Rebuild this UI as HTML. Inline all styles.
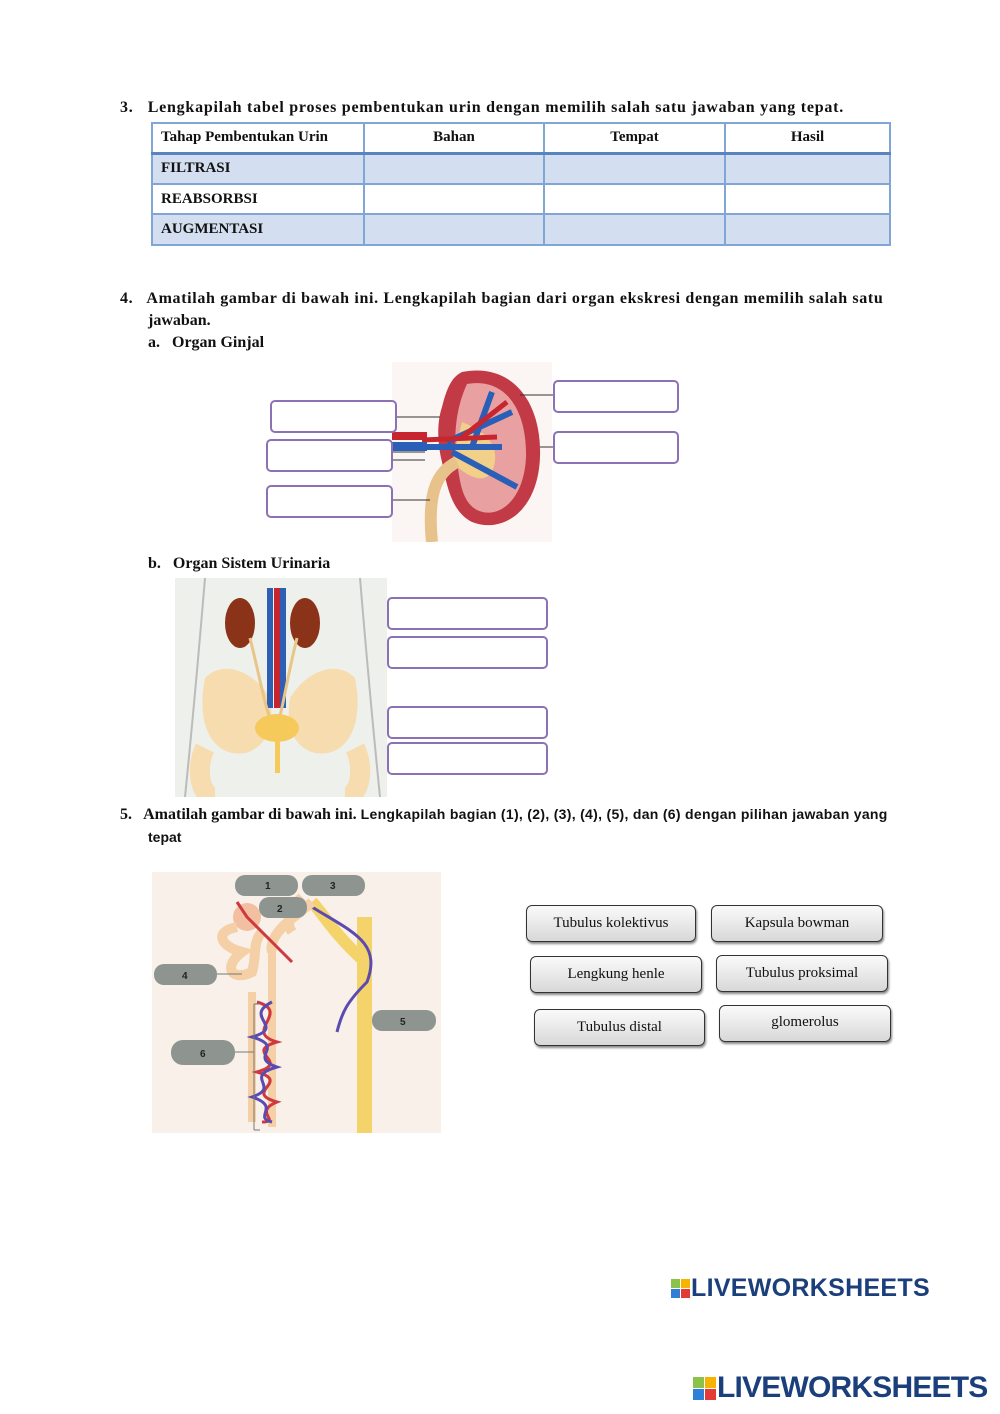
<!DOCTYPE html>
<html><head><meta charset="utf-8"><style>
body{margin:0;background:#fff;}
#p{position:relative;width:1000px;height:1414px;overflow:hidden;font-family:"Liberation Serif",serif;color:#111;}
.t{position:absolute;font-weight:bold;font-size:16px;white-space:nowrap;}
table{position:absolute;left:151px;top:122px;width:740px;border-collapse:collapse;font-family:"Liberation Serif",serif;font-weight:bold;font-size:15px;}
td{border:2px solid #7fa6d4;padding:0 8px;}
.b{position:absolute;border:2px solid #8c72b4;border-radius:5px;background:#fff;box-sizing:border-box;}
.btn{position:absolute;border:1.5px solid #333;border-radius:6px;background:linear-gradient(#fafafa,#d8d8d8);box-shadow:1px 2px 2px #888;box-sizing:border-box;font-size:15px;text-align:center;line-height:34px;height:37px;}
.logo{position:absolute;font-family:"Liberation Sans",sans-serif;font-weight:bold;color:#1b3f7a;white-space:nowrap;}
.sq{display:inline-block;vertical-align:middle;}
</style></head><body><div id="p">
<div class="t" style="left:120px;top:99px;letter-spacing:0.75px">3.&nbsp;&nbsp; Lengkapilah tabel proses pembentukan urin dengan memilih salah satu jawaban yang tepat.</div>
<table>
<tr style="height:30px;border-bottom:3px solid #5a84c0"><td style="width:194px">Tahap Pembentukan Urin</td><td style="width:162px;text-align:center">Bahan</td><td style="width:163px;text-align:center">Tempat</td><td style="text-align:center">Hasil</td></tr>
<tr style="height:31px;background:#d3dff0"><td>FILTRASI</td><td></td><td></td><td></td></tr>
<tr style="height:30px"><td>REABSORBSI</td><td></td><td></td><td></td></tr>
<tr style="height:31px;background:#d3dff0"><td>AUGMENTASI</td><td></td><td></td><td></td></tr>
</table>
<div class="t" style="left:120px;top:290px;letter-spacing:0.65px">4.&nbsp;&nbsp; Amatilah gambar di bawah ini. Lengkapilah bagian dari organ ekskresi dengan memilih salah satu</div>
<div class="t" style="left:148px;top:312px">jawaban.</div>
<div class="t" style="left:148px;top:334px">a.&nbsp;&nbsp; Organ Ginjal</div>
<svg style="position:absolute;left:392px;top:362px" width="160" height="180">
<rect width="160" height="180" fill="#fbf6f4"/>
<path d="M70 10 C120 0 150 40 148 95 C146 150 110 172 80 160 C60 150 55 125 50 100 C45 80 45 60 50 45 C55 25 60 15 70 10Z" fill="#c23a45"/>
<path d="M75 22 C115 15 135 50 134 95 C132 140 105 158 85 148 C70 140 68 120 65 100 C62 80 62 50 75 22Z" fill="#e8a0a0"/>
<path d="M70 60 C95 70 110 85 100 110 C90 125 70 110 60 100Z" fill="#f2d08a"/>
<path d="M30 85 L110 85 M55 80 L120 50 M60 90 L125 125 M80 85 L100 30" stroke="#2a5fb8" stroke-width="6" fill="none"/>
<path d="M30 78 L105 75 M70 75 L115 40" stroke="#c8262e" stroke-width="5" fill="none"/>
<path d="M65 100 C45 110 35 130 40 180" stroke="#e7c28a" stroke-width="12" fill="none"/>
<rect x="0" y="80" width="35" height="9" fill="#2a5fb8"/><rect x="0" y="70" width="35" height="8" fill="#c8262e"/>
</svg>
<div class="b" style="left:270px;top:400px;width:127px;height:33px"></div>
<div class="b" style="left:266px;top:439px;width:127px;height:33px"></div>
<div class="b" style="left:266px;top:485px;width:127px;height:33px"></div>
<div class="b" style="left:553px;top:380px;width:126px;height:33px"></div>
<div class="b" style="left:553px;top:431px;width:126px;height:33px"></div>
<svg style="position:absolute;left:0;top:0" width="1000" height="1414" pointer-events="none">
<path d="M397 417H440M393 452H425M393 460H425M393 500H430M553 395H520M553 447H540" stroke="#333" stroke-width="1"/>
<path d="M300 611H387M305 650H387M290 722H387M280 757H387" stroke="#333" stroke-width="1"/>
</svg>
<div class="t" style="left:148px;top:555px">b.&nbsp;&nbsp; Organ Sistem Urinaria</div>
<svg style="position:absolute;left:175px;top:578px" width="212" height="219">
<rect width="212" height="219" fill="#eef0ec"/>
<path d="M30 0 C25 60 20 120 10 219 M185 0 C190 60 195 120 205 219" stroke="#bbb" fill="none" stroke-width="2"/>
<path d="M30 100 C50 80 80 95 95 120 C100 150 90 170 70 175 C40 180 20 150 30 100Z" fill="#f6dcae"/>
<path d="M180 100 C160 80 130 95 115 120 C110 150 120 170 140 175 C170 180 190 150 180 100Z" fill="#f6dcae"/>
<path d="M30 170 C20 190 25 219 40 219 M180 170 C190 190 185 219 170 219" stroke="#f6dcae" stroke-width="20" fill="none"/>
<ellipse cx="65" cy="45" rx="15" ry="25" fill="#8b3318"/><ellipse cx="130" cy="45" rx="15" ry="25" fill="#8b3318"/>
<path d="M95 10 L95 130 M108 10 L108 130" stroke="#2d5fb5" stroke-width="6"/><path d="M102 10 L102 130" stroke="#c8262e" stroke-width="6"/>
<path d="M75 60 C85 100 90 130 97 145 M122 60 C112 100 108 130 103 145" stroke="#e8c688" stroke-width="3" fill="none"/>
<ellipse cx="102" cy="150" rx="22" ry="14" fill="#f5c95a"/>
<rect x="100" y="160" width="5" height="35" fill="#f5c95a"/>
</svg>
<div class="b" style="left:387px;top:597px;width:161px;height:33px"></div>
<div class="b" style="left:387px;top:636px;width:161px;height:33px"></div>
<div class="b" style="left:387px;top:706px;width:161px;height:33px"></div>
<div class="b" style="left:387px;top:742px;width:161px;height:33px"></div>
<div class="t" style="left:120px;top:806px">5.&nbsp;&nbsp; Amatilah gambar di bawah ini. <span style="font-family:'Liberation Sans',sans-serif;font-size:14px;letter-spacing:0.3px">Lengkapilah bagian (1), (2), (3), (4), (5), dan (6) dengan pilihan jawaban yang</span></div>
<div class="t" style="left:148px;top:829px;font-family:'Liberation Sans',sans-serif;font-size:14px">tepat</div>
<svg style="position:absolute;left:152px;top:872px" width="289" height="261" font-family="Liberation Sans" font-size="10" font-weight="bold">
<rect width="289" height="261" fill="#f8f0e9"/>
<rect x="205" y="45" width="15" height="216" fill="#f4d46a"/>
<path d="M213 90 C180 60 170 40 160 30" stroke="#f4d46a" stroke-width="12" fill="none"/>
<path d="M160 35 C200 60 230 70 215 110 C195 130 190 140 185 160" stroke="#5b4ab0" stroke-width="3" fill="none"/>
<path d="M120 80 C115 60 150 40 160 30 M140 60 C130 45 145 30 150 25" stroke="#f5cfa5" stroke-width="10" fill="none"/>
<path d="M120 75 L120 255 M100 120 L100 250" stroke="#f5cfa5" stroke-width="8" fill="none"/>
<path d="M105 130 C140 140 90 160 125 170 C90 180 140 190 105 200 C140 210 90 220 125 230 C100 240 130 250 110 250" stroke="#d0383f" stroke-width="3" fill="none"/>
<path d="M120 130 C90 145 135 155 100 165 C135 175 95 185 125 195 C90 205 130 215 100 225 C130 235 100 245 120 250" stroke="#5b4ab0" stroke-width="3" fill="none"/>
<circle cx="95" cy="45" r="14" fill="#f2c0a0"/>
<path d="M85 55 C60 60 70 75 90 80 C70 95 80 110 100 100 C105 85 100 70 110 60" stroke="#f5cfa5" stroke-width="10" fill="none"/>
<path d="M85 30 L95 45 L140 90" stroke="#d0383f" stroke-width="3" fill="none"/>
<rect x="83" y="3" width="63" height="21" rx="10" fill="#8e9591"/><text x="113" y="17" fill="#222">1</text>
<rect x="150" y="3" width="63" height="21" rx="10" fill="#8e9591"/><text x="178" y="17" fill="#222">3</text>
<rect x="107" y="25" width="48" height="21" rx="10" fill="#8e9591"/><text x="125" y="40" fill="#222">2</text>
<rect x="2" y="92" width="63" height="21" rx="10" fill="#8e9591"/><text x="30" y="107" fill="#222">4</text>
<rect x="220" y="138" width="64" height="21" rx="10" fill="#8e9591"/><text x="248" y="153" fill="#222">5</text>
<rect x="19" y="168" width="64" height="25" rx="12" fill="#8e9591"/><text x="48" y="185" fill="#222">6</text>
<path d="M65 102H90M83 180H102M102 132V258M102 132H108M102 258H108" stroke="#777" fill="none"/>
</svg>
<div class="btn" style="left:526px;top:905px;width:170px">Tubulus kolektivus</div>
<div class="btn" style="left:711px;top:905px;width:172px">Kapsula bowman</div>
<div class="btn" style="left:530px;top:956px;width:172px">Lengkung henle</div>
<div class="btn" style="left:716px;top:955px;width:172px">Tubulus proksimal</div>
<div class="btn" style="left:534px;top:1009px;width:171px">Tubulus distal</div>
<div class="btn" style="left:719px;top:1005px;width:172px;line-height:32px">glomerolus</div>
<div class="logo" style="left:671px;top:1274px;font-size:25px;letter-spacing:0.3px"><svg class="sq" width="20" height="20"><rect width="9" height="9" fill="#8bc34a"/><rect x="10" width="9" height="9" fill="#f5b400"/><rect y="10" width="9" height="9" fill="#2f7fd6"/><rect x="10" y="10" width="9" height="9" fill="#e53935"/></svg>LIVEWORKSHEETS</div>
<div class="logo" style="left:693px;top:1371px;font-size:30px;letter-spacing:-0.8px"><svg class="sq" width="24" height="24"><rect width="11" height="11" fill="#8bc34a"/><rect x="12" width="11" height="11" fill="#f5b400"/><rect y="12" width="11" height="11" fill="#2f7fd6"/><rect x="12" y="12" width="11" height="11" fill="#e53935"/></svg>LIVEWORKSHEETS</div>
</div></body></html>
